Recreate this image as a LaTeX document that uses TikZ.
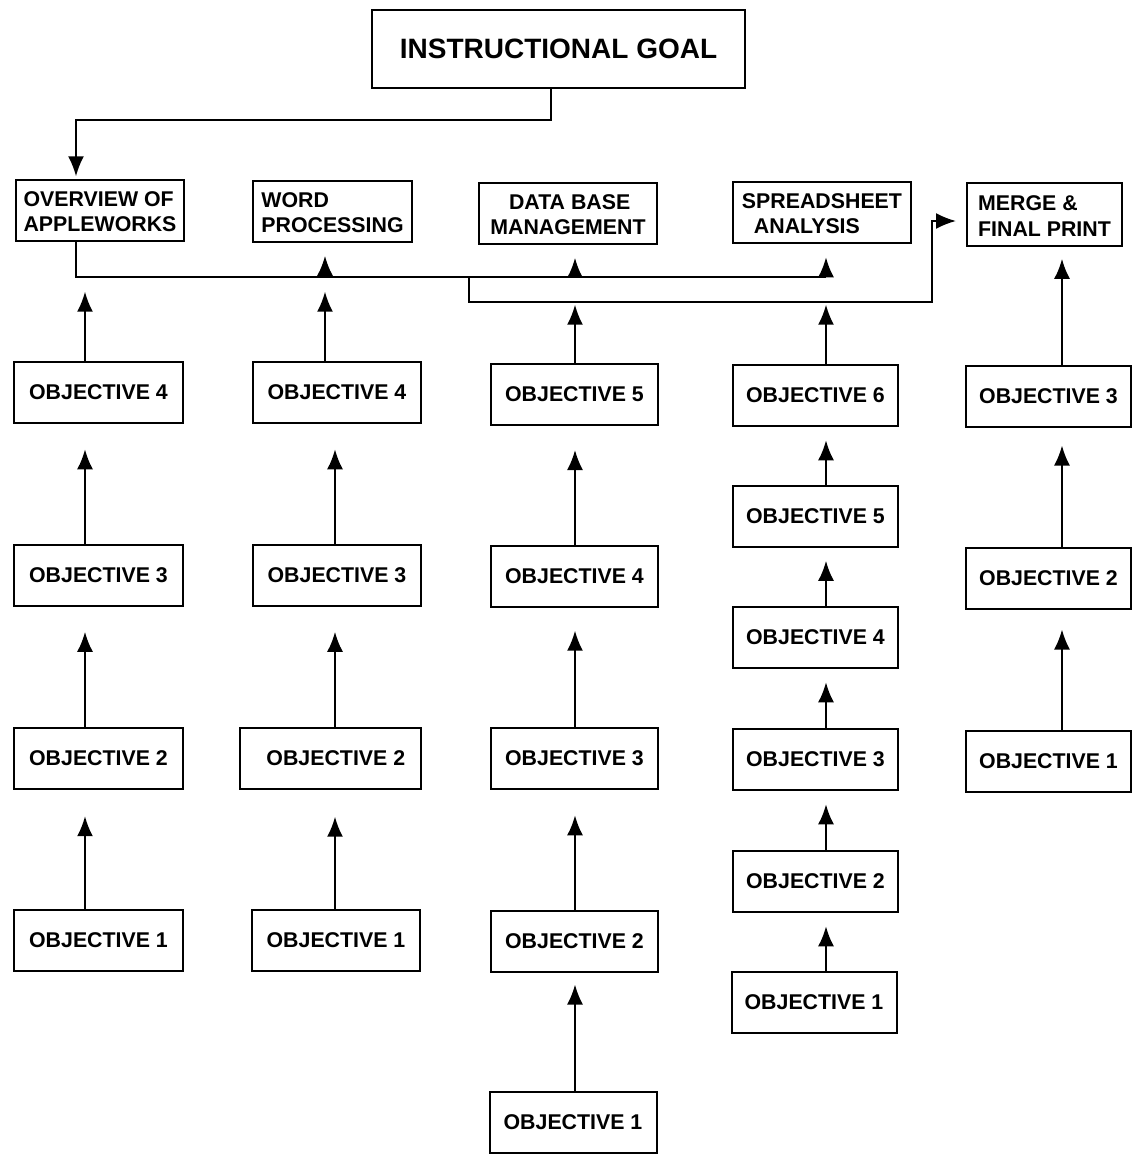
\documentclass[tikz,border=0pt]{standalone}
\usepackage{fontspec}
\setmainfont{Liberation Sans}
\usepackage{tikz}
\usetikzlibrary{arrows.meta}
\usetikzlibrary{positioning}
\usetikzlibrary{calc}

\newcommand{\boxfont}{\bfseries\fontsize{16}{19}\selectfont}
\newcommand{\goalfont}{\bfseries\fontsize{21}{25}\selectfont}

\begin{document}
\begin{tikzpicture}[x=0.75pt,y=0.75pt,yscale=-1,xscale=1,
  box/.style={draw, line width=1.5pt, minimum height=45.75pt, inner sep=2pt, font=\boxfont, align=left},
  unit/.style={box, yshift=-3pt},
  colA/.style={box, minimum width=126.75pt},
  colB/.style={box, minimum width=126pt},
  colC/.style={box, minimum width=125.25pt},
  colD/.style={box, minimum width=123.75pt},
  colE/.style={box, minimum width=123.75pt},
  link/.style={line width=1.5pt},
  up/.style={line width=1.5pt, -{Latex[length=15pt,width=12pt]}}]
  \useasboundingbox (0,0) rectangle (1133,1154); %page is 1133 x 1154

  % Goal and units
  \node[box, font=\goalfont, minimum width=279.75pt, minimum height=58.5pt] (goal) at (558.5,49) {INSTRUCTIONAL GOAL};
  \node[box, minimum width=126pt] (ovw) at (100,210.5) {\strut OVERVIEW OF\\APPLEWORKS};
  \node[box, minimum width=119.25pt] (wrd) at (332.5,211) {\strut WORD\\PROCESSING};
  \node[box, minimum width=133.5pt] (dbm) at (568,213) {\strut\hspace*{14pt}DATA BASE\\MANAGEMENT};
  \node[box, minimum width=133.5pt] (sps) at (822,212.5) {\strut SPREADSHEET\\\hspace*{9pt}ANALYSIS};
  \node[box, minimum width=116.25pt, minimum height=47pt] (mrg) at (1044.5,214.5) {\strut MERGE \&\\FINAL PRINT};

  % Column 1
  \node[colA] (c1o4) at (98.5,392.5) {OBJECTIVE 4};
  \node[colA] (c1o3) at (98.5,575) {OBJECTIVE 3};
  \node[colA] (c1o2) at (98.5,758) {OBJECTIVE 2};
  \node[colA] (c1o1) at (98.5,940) {OBJECTIVE 1};
  % Column 2
  \node[colB] (c2o4) at (337,392.5) {OBJECTIVE 4};
  \node[colB] (c2o3) at (337,575) {OBJECTIVE 3};
  \node[colB, minimum width=135.75pt] (c2o2) at (330.5,758.5) {\hspace*{8pt}OBJECTIVE 2};
  \node[colB] (c2o1) at (336,940) {OBJECTIVE 1};
  % Column 3
  \node[colC] (c3o5) at (574.5,394.5) {OBJECTIVE 5};
  \node[colC] (c3o4) at (574.5,576.5) {OBJECTIVE 4};
  \node[colC] (c3o3) at (574.5,758.5) {OBJECTIVE 3};
  \node[colC] (c3o2) at (574.5,941) {OBJECTIVE 2};
  \node[colC] (c3o1) at (573,1122) {OBJECTIVE 1};
  % Column 4
  \node[colD] (c4o6) at (815.5,395.5) {OBJECTIVE 6};
  \node[colD] (c4o5) at (815.5,516) {OBJECTIVE 5};
  \node[colD] (c4o4) at (815.5,637.5) {OBJECTIVE 4};
  \node[colD] (c4o3) at (815.5,759.5) {OBJECTIVE 3};
  \node[colD] (c4o2) at (815.5,881.5) {OBJECTIVE 2};
  \node[colD] (c4o1) at (814,1002.5) {OBJECTIVE 1};
  % Column 5
  \node[colE] (c5o3) at (1048.5,396) {OBJECTIVE 3};
  \node[colE] (c5o2) at (1048.5,578) {OBJECTIVE 2};
  \node[colE] (c5o1) at (1048.5,761) {OBJECTIVE 1};

  % bends and arrow columns
  \coordinate (g1) at (551,120);
  \coordinate (l1) at (76,277);
  \coordinate (l2) at (469,302);
  \coordinate (t2) at (932,221);
  \coordinate (k1) at (85,0);
  \coordinate (k2) at (335,0);
  \coordinate (kw) at (325,0);
  \coordinate (k3) at (575,0);
  \coordinate (k4) at (826,0);
  \coordinate (k5) at (1062,0);

  % goal to overview
  \draw[up, shorten >=2pt] (goal.south -| g1) -- (g1) -- (g1 -| l1) -- (ovw.north -| l1);
  % overview to the other units
  \draw[link] (ovw.south -| l1) -- (l1) -- (k4 |- l1);
  \draw[up, shorten >=10pt] (kw |- l1) -- (wrd.south -| kw);
  \draw[up, shorten >=10pt] (k3 |- l1) -- (dbm.south -| k3);
  \draw[up, shorten >=10pt] (k4 |- l1) -- (sps.south -| k4);
  \draw[up, shorten >=7.5pt] (l2 |- l1) -- (l2) -- (t2 |- l2) -- (t2) -- (t2 -| mrg.west);

  % objectives up to the units
  \draw[up, shorten >=11pt] (c1o4.north -| k1) -- (k1 |- l1);
  \draw[up, shorten >=11pt] (c2o4.north -| kw) -- (kw |- l1);
  \draw[up, shorten >=2pt] (c3o5.north -| k3) -- (k3 |- l2);
  \draw[up, shorten >=2pt] (c4o6.north -| k4) -- (k4 |- l2);
  \draw[up, shorten >=9pt] (c5o3.north -| k5) -- (mrg.south -| k5);

  % column 1
  \draw[up, shorten >=19pt] (c1o3.north -| k1) -- (c1o4.south -| k1);
  \draw[up, shorten >=19pt] (c1o2.north -| k1) -- (c1o3.south -| k1);
  \draw[up, shorten >=20pt] (c1o1.north -| k1) -- (c1o2.south -| k1);
  % column 2
  \draw[up, shorten >=19pt] (c2o3.north -| k2) -- (c2o4.south -| k2);
  \draw[up, shorten >=19pt] (c2o2.north -| k2) -- (c2o3.south -| k2);
  \draw[up, shorten >=20pt] (c2o1.north -| k2) -- (c2o2.south -| k2);
  % column 3
  \draw[up, shorten >=18pt] (c3o4.north -| k3) -- (c3o5.south -| k3);
  \draw[up, shorten >=17pt] (c3o3.north -| k3) -- (c3o4.south -| k3);
  \draw[up, shorten >=19pt] (c3o2.north -| k3) -- (c3o3.south -| k3);
  \draw[up, shorten >=9pt] (c3o1.north -| k3) -- (c3o2.south -| k3);
  % column 4
  \draw[up, shorten >=10pt] (c4o5.north -| k4) -- (c4o6.south -| k4);
  \draw[up, shorten >=10pt] (c4o4.north -| k4) -- (c4o5.south -| k4);
  \draw[up, shorten >=10pt] (c4o3.north -| k4) -- (c4o4.south -| k4);
  \draw[up, shorten >=10pt] (c4o2.north -| k4) -- (c4o3.south -| k4);
  \draw[up, shorten >=10pt] (c4o1.north -| k4) -- (c4o2.south -| k4);
  % column 5
  \draw[up, shorten >=13.5pt] (c5o2.north -| k5) -- (c5o3.south -| k5);
  \draw[up, shorten >=15pt] (c5o1.north -| k5) -- (c5o2.south -| k5);
\end{tikzpicture}
\end{document}
